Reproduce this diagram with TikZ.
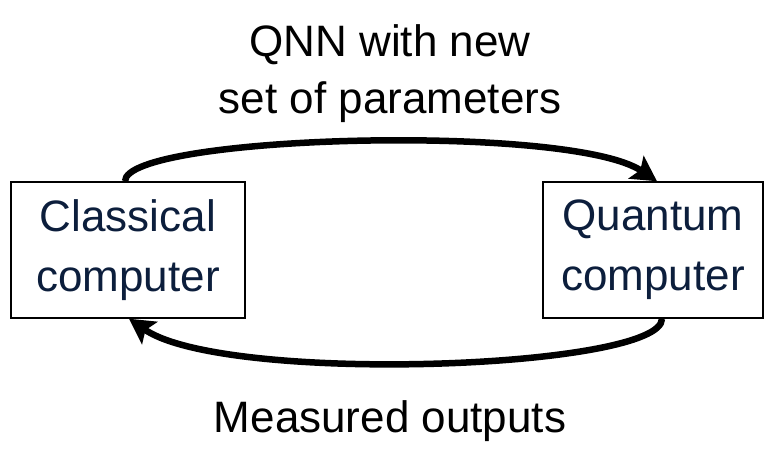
\documentclass[tikz,border=0pt]{standalone}
\usepackage{fontspec}
\setmainfont{Liberation Sans}
\usetikzlibrary{arrows.meta}
\definecolor{boxtext}{HTML}{0C1E3C}
\tikzset{
  machine/.style={draw=black, line width=1.5pt, minimum height=136pt,
    align=center, text=boxtext, inner sep=0pt,
    font=\fontsize{44}{60}\selectfont},
  caption/.style={align=center, text=black, inner sep=0pt,
    font=\fontsize{44}{57}\selectfont},
  loop/.style={line width=6.5pt, -{Stealth[length=25pt,width=27pt,inset=5pt]}}
}
\begin{document}
\begin{tikzpicture}[x=1pt,y=1pt]
  \useasboundingbox (0,0) rectangle (774,451);
  % the two machines
  \node[machine, minimum width=234pt] (cc) at (128,201) {Classical\\computer};
  \node[machine, minimum width=220pt] (qc) at (653,201) {Quantum\\computer};
  % anchor points on the box edges
  \coordinate (ccTop) at ([xshift=-3pt]cc.north);
  \coordinate (qcTop) at ([xshift=4pt]qc.north);
  \coordinate (qcBot) at ([xshift=9pt]qc.south);
  \coordinate (ccBot) at ([xshift=1pt]cc.south);
  % feedback loop
  \draw[loop] (ccTop) .. controls (125,316) and (570,328) .. (qcTop);
  \draw[loop] (qcBot) .. controls (662,82) and (225,66) .. (ccBot);
  % captions
  \node[caption] (top) at (390,377) {QNN with new\\set of parameters};
  \node[caption] (bottom) at (390,30) {Measured outputs};
\end{tikzpicture}
\end{document}
